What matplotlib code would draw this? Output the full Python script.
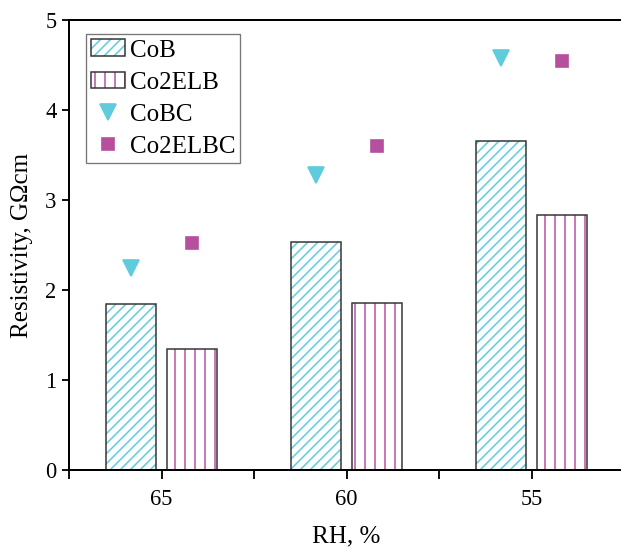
import numpy as np
import matplotlib.pyplot as plt
from matplotlib.patches import Patch

plt.rcParams['font.family'] = ['Liberation Serif', 'DejaVu Serif']
plt.rcParams['hatch.linewidth'] = 0.9

# values
rh_labels = ['65', '60', '55']
cob = [1.84, 2.53, 3.66]
co2elb = [1.35, 1.86, 2.83]
cobc = [2.25, 3.28, 4.58]
co2elbc = [2.52, 3.60, 4.55]

cyan = '#5FCBDB'
magenta = '#B6509E'
edge = '#333333'

dpi = 120
fig = plt.figure(figsize=(621 / dpi, 551 / dpi), dpi=dpi)
ax = fig.add_axes([69 / 621, 1 - 470 / 551, 555 / 621, 450 / 551])

x = np.arange(len(rh_labels))
w = 0.27
off = 0.167

# hatch layer + dark frame layer for each bar series
ax.bar(x - off, cob, w, facecolor='white', edgecolor=cyan, hatch='////', linewidth=0)
ax.bar(x - off, cob, w, facecolor='none', edgecolor=edge, linewidth=0.9)
ax.bar(x + off, co2elb, w, facecolor='white', edgecolor=magenta, hatch='||', linewidth=0)
ax.bar(x + off, co2elb, w, facecolor='none', edgecolor=edge, linewidth=0.9)

m1, = ax.plot(x - off, cobc, linestyle='none', marker='v', ms=9.5, color=cyan)
m2, = ax.plot(x + off, co2elbc, linestyle='none', marker='s', ms=7.5, color=magenta)

h_cob = (Patch(facecolor='white', edgecolor=cyan, hatch='////', linewidth=0),
         Patch(facecolor='none', edgecolor=edge, linewidth=0.9))
h_elb = (Patch(facecolor='white', edgecolor=magenta, hatch='||', linewidth=0),
         Patch(facecolor='none', edgecolor=edge, linewidth=0.9))
leg = ax.legend([h_cob, h_elb, m1, m2], ['CoB', 'Co2ELB', 'CoBC', 'Co2ELBC'],
                loc='upper left', bbox_to_anchor=(0.031, 0.968), fontsize=15,
                frameon=True, fancybox=False, edgecolor='#555555',
                handlelength=1.35, handleheight=0.65, handletextpad=0.2,
                labelspacing=0.4, borderpad=0.2, borderaxespad=0)
leg.get_frame().set_linewidth(0.8)

ax.set_xlim(-0.5, 2.5)
ax.set_ylim(0, 5)
ax.set_xticks(x)
ax.set_xticklabels(rh_labels)
ax.set_xticks([-0.5, 0.5, 1.5, 2.5], minor=True)
ax.set_yticks([0, 1, 2, 3, 4, 5])
ax.tick_params(axis='both', which='both', direction='out', width=1.1, labelsize=13.5)
ax.tick_params(axis='x', which='both', length=5.5, pad=6)
ax.tick_params(axis='y', which='major', length=4.5, pad=3)
for s in ax.spines.values():
    s.set_linewidth(1.2)

ax.set_xlabel('RH, %', fontsize=15, labelpad=9)
ax.set_ylabel('Resistivity, GΩcm', fontsize=15, labelpad=7)

fig.savefig('out.png', dpi=dpi)
